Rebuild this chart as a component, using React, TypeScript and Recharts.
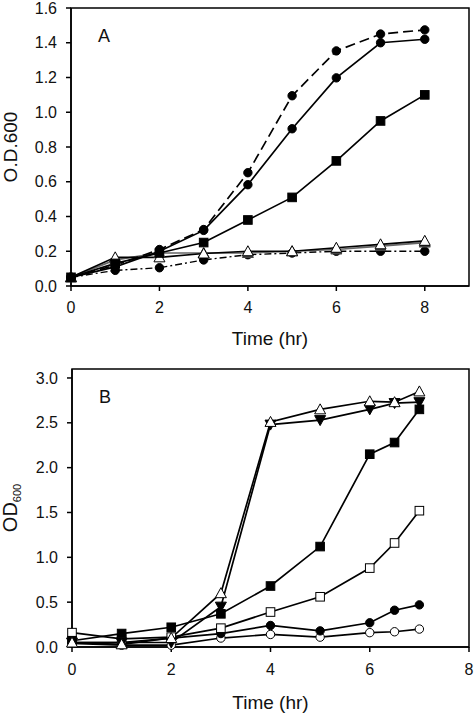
import React from "react";
import { LineChart, Line, XAxis, YAxis, ReferenceArea, Label } from "recharts";

// panel A: hours 0..8
const hoursA = [0, 1, 2, 3, 4, 5, 6, 7, 8];
const dashedCircA = [0.05, 0.12, 0.21, 0.325, 0.652, 1.095, 1.353, 1.45, 1.474];
const solidCircA = [0.05, 0.11, 0.2, 0.32, 0.583, 0.905, 1.198, 1.4, 1.42];
const squareA = [0.05, 0.13, 0.19, 0.25, 0.38, 0.51, 0.72, 0.95, 1.1];
const openTriA = [0.05, 0.165, 0.165, 0.187, 0.2, 0.2, 0.22, 0.24, 0.26];
const greyTriA = [0.05, 0.15, 0.19, 0.19, 0.19, 0.2, 0.21, 0.23, 0.25];
const dashDotA = [0.05, 0.09, 0.105, 0.15, 0.18, 0.19, 0.2, 0.2, 0.2];

// panel B: hours 0..7 with a 6.5 h reading
const hoursB = [0, 1, 2, 3, 4, 5, 6, 6.5, 7];
const openTriB = [0.05, 0.03, 0.1, 0.6, 2.51, 2.65, 2.74, 2.73, 2.85];
const downTriB = [0.05, 0.05, 0.05, 0.45, 2.48, 2.53, 2.65, 2.72, 2.73];
const squareB = [0.07, 0.15, 0.22, 0.37, 0.68, 1.12, 2.15, 2.28, 2.65];
const openSqB = [0.16, 0.09, 0.11, 0.21, 0.39, 0.56, 0.88, 1.16, 1.52];
const circB = [0.05, 0.05, 0.1, 0.15, 0.24, 0.18, 0.27, 0.41, 0.47];
const openCircB = [0.04, 0.02, 0.02, 0.1, 0.14, 0.11, 0.16, 0.17, 0.2];

const ticksA_x = [0, 2, 4, 6, 8];
const ticksA_y = [0, 0.2, 0.4, 0.6, 0.8, 1.0, 1.2, 1.4, 1.6];
const ticksB_x = [0, 2, 4, 6, 8];
const ticksB_y = [0, 0.5, 1.0, 1.5, 2.0, 2.5, 3.0];

const dataA = hoursA.map((t, i) => ({
  t,
  dc: dashedCircA[i],
  sc: solidCircA[i],
  sq: squareA[i],
  ot: openTriA[i],
  gt: greyTriA[i],
  dd: dashDotA[i],
}));

const dataB = hoursB.map((t, i) => ({
  t,
  ot: openTriB[i],
  dt: downTriB[i],
  sq: squareB[i],
  os: openSqB[i],
  c: circB[i],
  oc: openCircB[i],
}));

const FONT = "'Liberation Sans', Arial, sans-serif";
const INK = "#111";
const LW = 1.7;

// marker shapes
const marker = (shape: string, open: boolean, color = "#000") => (p: any) => {
  const { cx, cy, index } = p;
  if (cx == null || cy == null) return <g key={index} />;
  const fill = open ? "#fff" : color;
  const stroke = color;
  if (shape === "circle")
    return <circle key={index} cx={cx} cy={cy} r={4.2} fill={fill} stroke={stroke} strokeWidth={1} />;
  if (shape === "square")
    return <rect key={index} x={cx - 4.3} y={cy - 4.3} width={8.6} height={8.6} fill={fill} stroke={stroke} strokeWidth={1} />;
  if (shape === "up")
    return (
      <polygon key={index} points={`${cx},${cy - 5.5} ${cx - 5.5},${cy + 4.5} ${cx + 5.5},${cy + 4.5}`}
        fill={fill} stroke={stroke} strokeWidth={1} />
    );
  return (
    <polygon key={index} points={`${cx},${cy + 5.5} ${cx - 5.5},${cy - 4.5} ${cx + 5.5},${cy - 4.5}`}
      fill={fill} stroke={stroke} strokeWidth={1} />
  );
};

const tickStyle = { fontSize: 16, fill: INK, fontFamily: FONT };

const xTitle = (p: any) => {
  const vb = p.viewBox;
  return (
    <text x={vb.x + vb.width / 2} y={vb.y + p.dy0} textAnchor="middle" fontSize={19} fill={INK} fontFamily={FONT}>
      Time (hr)
    </text>
  );
};

const yTitleA = (p: any) => {
  const vb = p.viewBox;
  const x = vb.x + 17;
  const y = vb.y + vb.height / 2;
  return (
    <text x={x} y={y} transform={`rotate(-90 ${x} ${y})`} textAnchor="middle" fontSize={19} fill={INK} fontFamily={FONT}>
      O.D.600
    </text>
  );
};

const yTitleB = (p: any) => {
  const vb = p.viewBox;
  const x = vb.x + 17;
  const y = vb.y + vb.height / 2;
  return (
    <text x={x} y={y} transform={`rotate(-90 ${x} ${y})`} textAnchor="middle" fontSize={20} fill={INK} fontFamily={FONT}>
      OD<tspan fontSize={11} dy={4}>600</tspan>
    </text>
  );
};

const panelTag = (tag: string) => (p: any) => {
  const vb = p.viewBox;
  return (
    <text x={vb.x + 27} y={vb.y + 34} fontSize={18} fill={INK} fontFamily={FONT}>
      {tag}
    </text>
  );
};

const ChartA = () => (
  <LineChart width={475} height={358} data={dataA} margin={{ top: 8, right: 6, bottom: 0, left: 0 }}>
    <XAxis type="number" dataKey="t" domain={[0, 9]} ticks={ticksA_x} height={72}
      tick={tickStyle} tickSize={5} tickMargin={11} stroke="#000" strokeWidth={1.5}>
      <Label content={(p: any) => xTitle({ ...p, dy0: 59 })} />
    </XAxis>
    <YAxis type="number" domain={[0, 1.6]} ticks={ticksA_y} width={71} interval={0}
      tickFormatter={(v: number) => v.toFixed(1)} tick={tickStyle} tickSize={5} tickMargin={9}
      stroke="#000" strokeWidth={1.5}>
      <Label content={yTitleA} />
    </YAxis>
    <ReferenceArea x1={0} x2={9} y1={0} y2={1.6} fill="none" stroke="#000" strokeWidth={1.5} ifOverflow="visible"
      label={panelTag("A")} />
    <Line dataKey="dd" stroke="#000" strokeWidth={1.4} strokeDasharray="7 3 2 3" dot={marker("circle", false)} isAnimationActive={false} />
    <Line dataKey="gt" stroke="#666" strokeWidth={LW} dot={marker("up", false, "#444")} isAnimationActive={false} />
    <Line dataKey="ot" stroke="#000" strokeWidth={LW} dot={marker("up", true)} isAnimationActive={false} />
    <Line dataKey="sq" stroke="#000" strokeWidth={LW} dot={marker("square", false)} isAnimationActive={false} />
    <Line dataKey="sc" stroke="#000" strokeWidth={LW} dot={marker("circle", false)} isAnimationActive={false} />
    <Line dataKey="dc" stroke="#000" strokeWidth={LW} strokeDasharray="10 5" dot={marker("circle", false)} isAnimationActive={false} />
  </LineChart>
);

const ChartB = () => (
  <LineChart width={475} height={355} data={dataB} margin={{ top: 11, right: 6, bottom: 0, left: 0 }}>
    <XAxis type="number" dataKey="t" domain={[0, 8]} ticks={ticksB_x} height={66}
      tick={tickStyle} tickSize={5} tickMargin={12} stroke="#000" strokeWidth={1.5}>
      <Label content={(p: any) => xTitle({ ...p, dy0: 62 })} />
    </XAxis>
    <YAxis type="number" domain={[0, 3.1]} ticks={ticksB_y} width={72} interval={0}
      tickFormatter={(v: number) => v.toFixed(1)} tick={tickStyle} tickSize={5} tickMargin={9}
      stroke="#000" strokeWidth={1.5}>
      <Label content={yTitleB} />
    </YAxis>
    <ReferenceArea x1={0} x2={8} y1={0} y2={3.1} fill="none" stroke="#000" strokeWidth={1.5} ifOverflow="visible"
      label={panelTag("B")} />
    <Line dataKey="oc" stroke="#000" strokeWidth={LW} dot={marker("circle", true)} isAnimationActive={false} />
    <Line dataKey="c" stroke="#000" strokeWidth={LW} dot={marker("circle", false)} isAnimationActive={false} />
    <Line dataKey="os" stroke="#000" strokeWidth={LW} dot={marker("square", true)} isAnimationActive={false} />
    <Line dataKey="sq" stroke="#000" strokeWidth={LW} dot={marker("square", false)} isAnimationActive={false} />
    <Line dataKey="dt" stroke="#000" strokeWidth={LW} dot={marker("down", false)} isAnimationActive={false} />
    <Line dataKey="ot" stroke="#000" strokeWidth={LW} dot={marker("up", true)} isAnimationActive={false} />
  </LineChart>
);

export default function App() {
  return (
    <div style={{ position: "fixed", top: 0, left: 0, width: 475, height: 713, background: "#fff" }}>
      <div style={{ position: "absolute", top: 0, left: 0 }}>
        <ChartA />
      </div>
      <div style={{ position: "absolute", top: 358, left: 0 }}>
        <ChartB />
      </div>
    </div>
  );
}
